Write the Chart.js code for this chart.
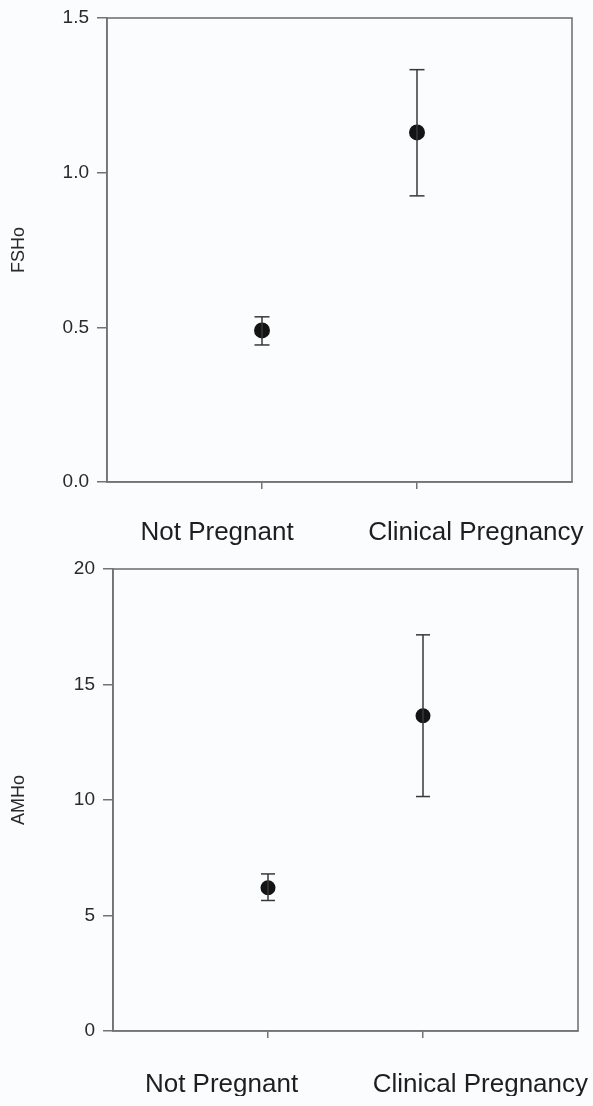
<!DOCTYPE html>
<html>
<head>
<meta charset="utf-8">
<script src="https://cdn.jsdelivr.net/npm/chart.js@4"></script>
<style>
  html, body { margin: 0; padding: 0; background: #fbfcfe; }
  .panel { position: absolute; left: 0; width: 593px; }
  #topPanel { top: 0; height: 555px; }
  #bottomPanel { top: 555px; height: 551px; }
</style>
</head>
<body>
<div class="panel" id="topPanel"><canvas id="fshChart"></canvas></div>
<div class="panel" id="bottomPanel"><canvas id="amhChart"></canvas></div>
<script>
const categories = ['Not Pregnant', 'Clinical Pregnancy'];
const categoryX = [1, 2];

const fshMean = [0.49, 1.13];
const fshLow = [0.443, 0.925];
const fshHigh = [0.534, 1.333];
const fshTicks = [0, 0.5, 1.0, 1.5];

const amhMean = [6.2, 13.65];
const amhLow = [5.65, 10.15];
const amhHigh = [6.8, 17.15];
const amhTicks = [0, 5, 10, 15, 20];

const axisColor = '#737373';
const barColor = '#383838';
const fontFamily = '"Liberation Sans", Arial, sans-serif';

// draws the closed frame round the plot area
const framePlugin = {
    id: 'frame',
    afterDraw(chart) {
        const a = chart.chartArea;
        const ctx = chart.ctx;
        ctx.save();
        ctx.strokeStyle = axisColor;
        ctx.lineWidth = 1.6;
        ctx.strokeRect(a.left, a.top, a.right - a.left, a.bottom - a.top);
        ctx.restore();
    }
};

function makeChart(canvasId, cfg) {
    const ctx = document.getElementById(canvasId).getContext('2d');

    const stems = [];
    const caps = [];
    categoryX.forEach((x, i) => {
        stems.push({x: x, y: cfg.low[i]}, {x: x, y: cfg.high[i]}, {x: x + 0.5, y: null});
        caps.push({x: x, y: cfg.low[i]}, {x: x, y: cfg.high[i]});
    });
    const means = categoryX.map((x, i) => ({x: x, y: cfg.mean[i]}));

    return new Chart(ctx, {
        type: 'scatter',
        data: {
            datasets: [
                {
                    data: stems,
                    showLine: true,
                    spanGaps: false,
                    borderColor: barColor,
                    borderWidth: 1.5,
                    pointRadius: 0
                },
                {
                    data: caps,
                    pointStyle: 'line',
                    pointRadius: cfg.capHalf,
                    borderColor: barColor,
                    borderWidth: 1.5
                },
                {
                    data: means,
                    pointStyle: 'circle',
                    pointRadius: cfg.dotRadius,
                    backgroundColor: '#141414',
                    borderColor: '#141414',
                    borderWidth: 0
                }
            ]
        },
        options: {
            responsive: true,
            maintainAspectRatio: false,
            animation: false,
            layout: {
                padding: cfg.padding
            },
            plugins: {
                legend: { display: false },
                tooltip: { enabled: false }
            },
            scales: {
                x: {
                    type: 'linear',
                    min: 0,
                    max: 3,
                    weight: 0,
                    afterBuildTicks: s => { s.ticks = categoryX.map(v => ({value: v})); },
                    afterFit: s => { s.height = 7; s.paddingLeft = 0; s.paddingRight = 0; },
                    grid: {
                        display: true,
                        drawOnChartArea: false,
                        drawTicks: true,
                        tickLength: 7,
                        color: axisColor,
                        lineWidth: 1.5
                    },
                    border: { display: true, color: axisColor, width: 1.6 },
                    ticks: { display: false }
                },
                xl: {
                    type: 'linear',
                    position: 'bottom',
                    min: 0,
                    max: 3,
                    weight: 1,
                    afterBuildTicks: s => { s.ticks = cfg.labelX.map(v => ({value: v})); },
                    afterFit: s => { s.height = cfg.labelHeight; s.paddingLeft = 0; s.paddingRight = 0; },
                    grid: { display: false, drawTicks: false },
                    border: { display: false },
                    ticks: {
                        autoSkip: false,
                        maxRotation: 0,
                        padding: cfg.labelPad,
                        color: '#1e1e1e',
                        font: { family: fontFamily, size: 26 },
                        callback: (v, i) => categories[i]
                    }
                },
                y: {
                    min: cfg.ticks[0],
                    max: cfg.ticks[cfg.ticks.length - 1],
                    afterBuildTicks: s => { s.ticks = cfg.ticks.map(v => ({value: v})); },
                    afterFit: s => { s.width = cfg.axisWidth; s.paddingTop = 0; s.paddingBottom = 0; },
                    grid: {
                        display: true,
                        drawOnChartArea: false,
                        drawTicks: true,
                        tickLength: 10,
                        color: axisColor,
                        lineWidth: 1.5
                    },
                    border: { display: true, color: axisColor, width: 1.6 },
                    ticks: {
                        padding: 8,
                        color: '#2a2a2a',
                        font: { family: fontFamily, size: 19 },
                        callback: v => cfg.format(v)
                    },
                    title: {
                        display: true,
                        text: cfg.title,
                        color: '#2a2a2a',
                        font: { family: fontFamily, size: 18 },
                        padding: { top: 8, bottom: 0 }
                    }
                }
            }
        },
        plugins: [framePlugin]
    });
}

makeChart('fshChart', {
    mean: fshMean,
    low: fshLow,
    high: fshHigh,
    ticks: fshTicks,
    title: 'FSHo',
    format: v => v.toFixed(1),
    labelX: [0.71, 2.38],
    axisWidth: 107,
    labelHeight: 56,
    labelPad: 28,
    capHalf: 7.5,
    dotRadius: 8,
    padding: { left: 0, right: 21, top: 18, bottom: 10 }
});

makeChart('amhChart', {
    mean: amhMean,
    low: amhLow,
    high: amhHigh,
    ticks: amhTicks,
    title: 'AMHo',
    format: v => String(v),
    labelX: [0.70, 2.37],
    axisWidth: 113,
    labelHeight: 58,
    labelPad: 31,
    capHalf: 7,
    dotRadius: 7.5,
    padding: { left: 0, right: 15, top: 14, bottom: 10 }
});
</script>
</body>
</html>
